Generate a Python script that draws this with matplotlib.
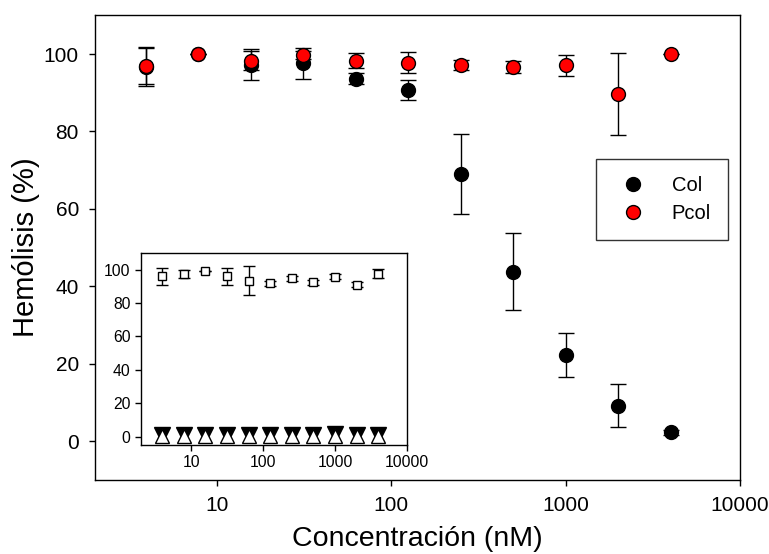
import numpy as np
import matplotlib.pyplot as plt
from matplotlib.lines import Line2D
from matplotlib.ticker import FixedLocator, FixedFormatter, NullLocator

plt.rcParams['font.family'] = ['Liberation Sans', 'DejaVu Sans']

conc = [3.9, 7.8, 15.6, 31.25, 62.5, 125, 250, 500, 1000, 2000, 4000]

col = [96.7, 100.0, 97.2, 97.6, 93.6, 90.7, 69.0, 43.8, 22.3, 9.2, 2.3]
col_err = [5.0, 0.0, 4.0, 4.0, 1.4, 2.7, 10.4, 10.0, 5.6, 5.5, 0.6]

pcol = [96.9, 99.9, 98.3, 99.7, 98.3, 97.8, 97.2, 96.6, 97.1, 89.7, 100.1]
pcol_err = [4.6, 0.0, 2.5, 1.0, 2.0, 2.6, 1.3, 1.5, 2.7, 10.5, 0.0]

# inset
sq = [96.0, 97.4, 99.4, 96.0, 93.5, 91.9, 95.0, 92.6, 95.8, 90.9, 97.6]
sq_err = [5.0, 2.2, 0.0, 5.0, 8.5, 1.5, 1.5, 1.5, 1.5, 1.5, 2.6]
tri_dn = [1.2, 1.2, 1.0, 1.2, 1.0, 1.0, 0.8, 0.8, 1.5, 1.2, 1.2]
tri_up = [0.5, 0.5, 0.5, 0.5, 0.5, 0.5, 0.3, 0.3, 0.6, 0.5, 0.5]

xticks = [10, 100, 1000, 10000]
xlabels = ['10', '100', '1000', '10000']

fig = plt.figure(figsize=(7.69, 5.54), dpi=100)
ax = fig.add_axes([0.1235, 0.1336, 0.8388, 0.8388])

ax.errorbar(conc, col, yerr=col_err, fmt='o', color='black', mfc='black', mec='black',
            ms=10, ecolor='black', elinewidth=1, capsize=5.5, capthick=1, zorder=3)
ax.errorbar(conc, pcol, yerr=pcol_err, fmt='o', color='black', mfc='#ff0000', mec='black',
            mew=1, ms=10, ecolor='black', elinewidth=1, capsize=5.5, capthick=1, zorder=4)

ax.set_xscale('log')
ax.set_xlim(2, 10000)
ax.set_ylim(-10, 110)
ax.xaxis.set_major_locator(FixedLocator(xticks))
ax.xaxis.set_major_formatter(FixedFormatter(xlabels))
ax.xaxis.set_minor_locator(NullLocator())
ax.set_yticks([0, 20, 40, 60, 80, 100])
ax.tick_params(direction='out', length=4.5, width=1, labelsize=15, pad=7)
ax.set_xlabel('Concentración (nM)', fontsize=20.5, labelpad=8)
ax.set_ylabel('Hemólisis (%)', fontsize=21, labelpad=3)
for s in ax.spines.values():
    s.set_linewidth(1)

handles = [Line2D([], [], ls='none', marker='o', ms=10, mfc='black', mec='black'),
           Line2D([], [], ls='none', marker='o', ms=10, mfc='#ff0000', mec='black')]
leg = ax.legend(handles, ['Col', 'Pcol'], loc='upper right',
                bbox_to_anchor=(728 / 769, 1 - 159 / 554),
                bbox_transform=fig.transFigure, fontsize=14.5, frameon=True, fancybox=False,
                edgecolor='black', handlelength=2.0, handletextpad=0.9, borderpad=0.85,
                labelspacing=0.45, borderaxespad=0)
leg.get_frame().set_linewidth(1)

# inset
ins = fig.add_axes([0.1834, 0.1968, 0.3459, 0.3465])
ins.errorbar(conc, sq, yerr=sq_err, fmt='s', mfc='white', mec='black', mew=1, ms=5.5,
             ecolor='black', elinewidth=1, capsize=4.5, capthick=1, zorder=3)
ins.plot(conc, tri_dn, 'v', mfc='black', mec='black', ms=11, zorder=3)
ins.plot(conc, tri_up, '^', mfc='white', mec='black', mew=1, ms=10, zorder=4)
ins.set_xscale('log')
ins.set_xlim(2, 10000)
ins.set_ylim(-5, 110)
ins.xaxis.set_major_locator(FixedLocator(xticks))
ins.xaxis.set_major_formatter(FixedFormatter(xlabels))
ins.xaxis.set_minor_locator(NullLocator())
ins.set_yticks([0, 20, 40, 60, 80, 100])
ins.tick_params(direction='out', length=4.5, width=1, labelsize=11.3, pad=3)
for s in ins.spines.values():
    s.set_linewidth(1)

fig.savefig('out.png', dpi=100)
